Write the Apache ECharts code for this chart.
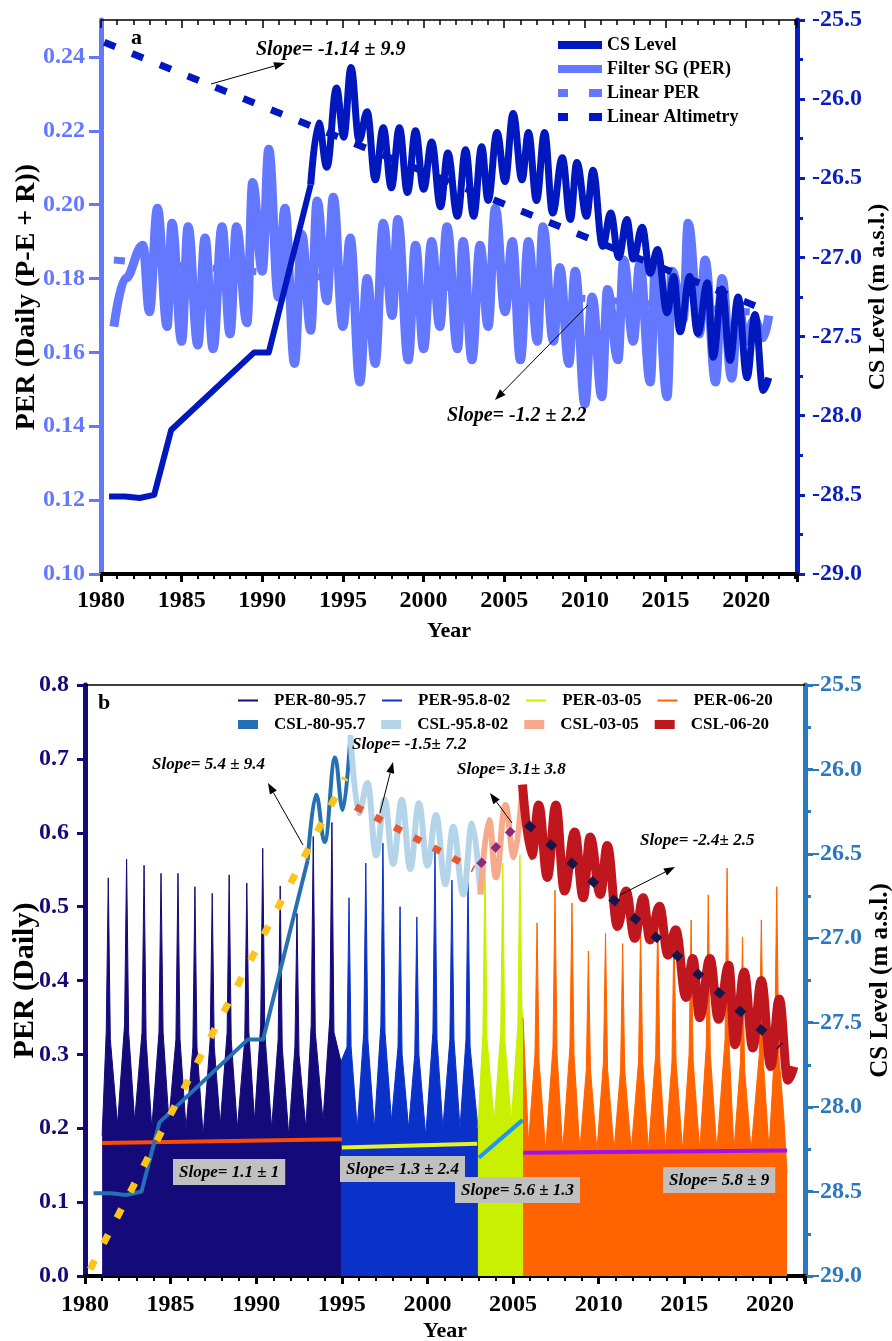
<!DOCTYPE html>
<html>
<head>
<meta charset="utf-8">
<script src="https://cdn.jsdelivr.net/npm/echarts@6/dist/echarts.min.js"></script>
<style>
    html, body { margin: 0; padding: 0; background: #fff; }
    #chart { width: 892px; height: 1341px; }
</style>
</head>
<body>
<div id="chart"></div>
<script>
    var FONT = '"Liberation Serif", "Times New Roman", serif';

    // ---- panel a : CS level (m a.s.l.) and filtered PER ----
    var csLevel = [
        [1980.5, -28.51], [1981.5, -28.51], [1982.4, -28.52], [1983.3, -28.50], [1984.35, -28.09],
        [1989.5, -27.60], [1990.4, -27.60], [1993.0, -26.54], [1993.5, -26.15], [1994.0, -26.43],
        [1994.6, -25.93], [1995.05, -26.24], [1995.5, -25.80], [1996.0, -26.26], [1996.5, -26.08],
        [1997.0, -26.51], [1997.5, -26.18], [1998.0, -26.56], [1998.5, -26.18], [1999.0, -26.59],
        [1999.5, -26.20], [2000.0, -26.57], [2000.5, -26.27], [2001.05, -26.68], [2001.5, -26.34],
        [2002.1, -26.74], [2002.6, -26.32], [2003.1, -26.74], [2003.6, -26.30], [2004.0, -26.64],
        [2004.55, -26.21], [2005.05, -26.52], [2005.55, -26.09], [2006.1, -26.51], [2006.5, -26.21],
        [2007.0, -26.64], [2007.5, -26.21], [2008.0, -26.72], [2008.6, -26.37], [2009.1, -26.76],
        [2009.5, -26.40], [2010.1, -26.74], [2010.5, -26.45], [2011.1, -26.93], [2011.6, -26.72],
        [2012.1, -27.00], [2012.6, -26.76], [2013.0, -27.01], [2013.55, -26.81], [2014.05, -27.10],
        [2014.5, -26.95], [2015.1, -27.35], [2015.5, -27.12], [2015.9, -27.47], [2016.5, -27.12],
        [2017.0, -27.48], [2017.6, -27.16], [2017.95, -27.63], [2018.5, -27.20], [2019.0, -27.65],
        [2019.5, -27.25], [2020.05, -27.76], [2020.55, -27.36], [2021.05, -27.84], [2021.4, -27.76]
    ];
    var filterSG = [
        [1980.8, 0.167], [1981.5, 0.180], [1982.6, 0.189], [1983.0, 0.171], [1983.5, 0.199],
        [1984.1, 0.167], [1984.4, 0.195], [1985.0, 0.163], [1985.4, 0.194], [1986.0, 0.162],
        [1986.45, 0.191], [1986.95, 0.161], [1987.5, 0.194], [1988.0, 0.165], [1988.4, 0.194],
        [1989.05, 0.168], [1989.4, 0.206], [1990.0, 0.182], [1990.4, 0.215], [1991.0, 0.175],
        [1991.4, 0.199], [1992.0, 0.157], [1992.45, 0.192], [1993.0, 0.166], [1993.4, 0.201],
        [1994.0, 0.174], [1994.4, 0.202], [1995.0, 0.167], [1995.45, 0.191], [1996.05, 0.152],
        [1996.5, 0.180], [1997.0, 0.157], [1997.5, 0.195], [1998.05, 0.170], [1998.4, 0.196],
        [1999.05, 0.158], [1999.5, 0.189], [2000.0, 0.161], [2000.5, 0.190], [2001.0, 0.167],
        [2001.45, 0.194], [2002.1, 0.161], [2002.45, 0.190], [2003.0, 0.158], [2003.5, 0.189],
        [2004.0, 0.167], [2004.45, 0.199], [2005.05, 0.171], [2005.5, 0.190], [2006.0, 0.158],
        [2006.5, 0.190], [2007.05, 0.163], [2007.4, 0.194], [2008.05, 0.163], [2008.45, 0.183],
        [2009.0, 0.157], [2009.4, 0.182], [2010.0, 0.146], [2010.45, 0.175], [2011.05, 0.148],
        [2011.4, 0.177], [2012.05, 0.158], [2012.4, 0.185], [2013.0, 0.163], [2013.4, 0.184],
        [2014.05, 0.152], [2014.4, 0.186], [2015.1, 0.148], [2015.4, 0.182], [2016.1, 0.169],
        [2016.4, 0.195], [2017.1, 0.165], [2017.45, 0.185], [2018.1, 0.152], [2018.5, 0.180],
        [2019.1, 0.153], [2019.5, 0.173], [2020.0, 0.163], [2020.5, 0.169], [2021.05, 0.164],
        [2021.4, 0.170]
    ];
    var linearPER = [[1980.8, 0.185], [2021.5, 0.1705]];
    var linearAlt = [[1980.2, -25.64], [2021.4, -27.34]];

    // ---- panel b : daily PER by period ----
    var per80 = [
        [1981.0, 0.19], [1981.24, 0.33], [1981.36, 0.539], [1981.48, 0.32], [1981.9, 0.205],
        [1982.31, 0.34], [1982.43, 0.564], [1982.55, 0.33], [1982.9, 0.21],
        [1983.33, 0.33], [1983.45, 0.556], [1983.57, 0.32], [1983.9, 0.20],
        [1984.32, 0.33], [1984.44, 0.545], [1984.56, 0.33], [1984.9, 0.21],
        [1985.31, 0.32], [1985.43, 0.545], [1985.55, 0.32], [1985.9, 0.20],
        [1986.3, 0.31], [1986.42, 0.527], [1986.54, 0.31], [1986.9, 0.19],
        [1987.31, 0.32], [1987.43, 0.518], [1987.55, 0.31], [1987.9, 0.205],
        [1988.3, 0.33], [1988.42, 0.543], [1988.54, 0.32], [1988.9, 0.20],
        [1989.33, 0.32], [1989.45, 0.532], [1989.57, 0.33], [1989.9, 0.21],
        [1990.26, 0.34], [1990.38, 0.579], [1990.5, 0.33], [1990.9, 0.20],
        [1991.28, 0.32], [1991.4, 0.528], [1991.52, 0.31], [1991.9, 0.19],
        [1992.26, 0.31], [1992.38, 0.491], [1992.5, 0.30], [1992.9, 0.20],
        [1993.21, 0.34], [1993.33, 0.595], [1993.45, 0.33], [1993.9, 0.21],
        [1994.3, 0.35], [1994.42, 0.614], [1994.54, 0.33], [1994.95, 0.29]
    ];
    var per95 = [
        [1994.95, 0.29], [1995.3, 0.31], [1995.42, 0.512], [1995.54, 0.31], [1995.9, 0.20],
        [1996.28, 0.33], [1996.4, 0.559], [1996.52, 0.32], [1996.9, 0.20],
        [1997.28, 0.34], [1997.4, 0.586], [1997.52, 0.33], [1997.9, 0.21],
        [1998.28, 0.31], [1998.4, 0.500], [1998.52, 0.30], [1998.9, 0.20],
        [1999.26, 0.30], [1999.38, 0.486], [1999.5, 0.30], [1999.9, 0.19],
        [2000.32, 0.33], [2000.44, 0.574], [2000.56, 0.32], [2000.9, 0.20],
        [2001.31, 0.32], [2001.43, 0.536], [2001.55, 0.32], [2001.9, 0.20],
        [2002.25, 0.32], [2002.37, 0.536], [2002.49, 0.31], [2002.95, 0.20]
    ];
    var per03 = [
        [2002.95, 0.20], [2003.24, 0.33], [2003.36, 0.563], [2003.48, 0.32], [2003.9, 0.21],
        [2004.28, 0.33], [2004.4, 0.559], [2004.52, 0.32], [2004.9, 0.21],
        [2005.28, 0.34], [2005.4, 0.570], [2005.52, 0.36], [2005.58, 0.35]
    ];
    var per06 = [
        [2005.58, 0.35], [2005.9, 0.18],
        [2006.28, 0.30], [2006.4, 0.478], [2006.52, 0.29], [2006.9, 0.17],
        [2007.33, 0.31], [2007.45, 0.522], [2007.57, 0.30], [2007.9, 0.17],
        [2008.32, 0.31], [2008.44, 0.505], [2008.56, 0.30], [2008.9, 0.17],
        [2009.28, 0.28], [2009.4, 0.440], [2009.52, 0.28], [2009.9, 0.17],
        [2010.28, 0.29], [2010.4, 0.464], [2010.52, 0.28], [2010.9, 0.17],
        [2011.28, 0.28], [2011.4, 0.450], [2011.52, 0.28], [2011.9, 0.17],
        [2012.33, 0.29], [2012.45, 0.472], [2012.57, 0.29], [2012.9, 0.17],
        [2013.33, 0.30], [2013.45, 0.486], [2013.57, 0.29], [2013.9, 0.17],
        [2014.28, 0.29], [2014.4, 0.472], [2014.52, 0.29], [2014.9, 0.17],
        [2015.28, 0.30], [2015.4, 0.482], [2015.52, 0.29], [2015.9, 0.17],
        [2016.28, 0.31], [2016.4, 0.516], [2016.52, 0.30], [2016.9, 0.17],
        [2017.38, 0.32], [2017.5, 0.552], [2017.62, 0.31], [2017.9, 0.17],
        [2018.28, 0.29], [2018.4, 0.459], [2018.52, 0.28], [2018.9, 0.17],
        [2019.38, 0.30], [2019.5, 0.482], [2019.62, 0.29], [2019.95, 0.17],
        [2020.28, 0.31], [2020.4, 0.527], [2020.52, 0.30], [2020.8, 0.22], [2021.0, 0.14]
    ];
    // fitted PER trend per period
    var trendPer80 = [[1981.0, 0.180], [1995.0, 0.185]];
    var trendPer95 = [[1995.0, 0.174], [2002.9, 0.179]];
    var trendPer03 = [[2003.0, 0.160], [2005.55, 0.211]];
    var trendPer06 = [[2005.6, 0.167], [2021.0, 0.170]];
    // fitted CSL trend per period
    var trendCsl80 = [[1980.3, -28.96], [1995.2, -26.05]];
    var trendCsl95 = [[1995.8, -26.22], [2002.7, -26.59]];
    var trendCsl03 = [[2003.0, -26.57], [2005.2, -26.33]];
    var trendCsl06 = [[2005.8, -26.32], [2020.6, -27.64]];

    var xTicks = [1980, 1985, 1990, 1995, 2000, 2005, 2010, 2015, 2020];

    // the early CS level record is piecewise linear, the altimetry part is smooth
    function seg(a, b) {
        return csLevel.filter(function (p) { return p[0] >= a && p[0] <= b; });
    }
    var csEarly = seg(1980, 1993.0),
        csLate = seg(1993.0, 2030);
    var csl80a = seg(1980, 1993.0),
        csl80b = seg(1993.0, 1995.5),
        csl95 = seg(1995.5, 2003.1),
        csl03 = seg(2003.1, 2005.55),
        csl06 = seg(2005.55, 2030);

    var chart = echarts.init(document.getElementById('chart'), null, { renderer: 'canvas' });

    function xAxisBottom(grid, max, margin, nameGap) {
        return {
            gridIndex: grid, type: 'value', min: 1980, max: max, interval: 5, position: 'bottom',
            axisLine: { show: true, onZero: false, lineStyle: { color: '#000', width: 4 } },
            axisTick: { show: true, length: 8, lineStyle: { color: '#000', width: 3 } },
            minorTick: { show: true, splitNumber: 5, length: 5, lineStyle: { color: '#000', width: 2 } },
            splitLine: { show: false },
            axisLabel: {
                margin: margin, showMaxLabel: false, fontSize: 24, fontWeight: 'bold', color: '#000', fontFamily: FONT,
                formatter: function (v) { return xTicks.indexOf(v) >= 0 ? String(v) : ''; }
            },
            name: 'Year', nameLocation: 'middle', nameGap: nameGap, nameMoveOverlap: false,
            nameTextStyle: { fontSize: 22, fontWeight: 'bold', color: '#000', fontFamily: FONT }
        };
    }
    function xAxisTop(grid, max, ticks) {
        return {
            gridIndex: grid, type: 'value', min: 1980, max: max, interval: 5, position: 'top',
            axisLine: { show: true, onZero: false, lineStyle: { color: '#000', width: 1.5 } },
            axisTick: { show: ticks, inside: true, length: 8, lineStyle: { color: '#000', width: 1.5 } },
            minorTick: { show: ticks, splitNumber: 5, length: 5, lineStyle: { color: '#000', width: 1.5 } },
            splitLine: { show: false },
            axisLabel: { show: false }
        };
    }
    function yAxis(grid, pos, min, max, interval, color, digits, minor, margin, name, nameGap, nameSize) {
        return {
            gridIndex: grid, type: 'value', position: pos, min: min, max: max, interval: interval,
            axisLine: { show: true, onZero: false, lineStyle: { color: color, width: 5 } },
            axisTick: { show: true, length: pos === 'left' && grid === 0 ? 12 : 8, lineStyle: { color: color, width: 3 } },
            minorTick: { show: minor, splitNumber: 2, length: 6, lineStyle: { color: color, width: 3 } },
            splitLine: { show: false },
            axisLabel: {
                margin: margin, showMaxLabel: digits === 2 ? false : true, fontSize: 24, fontWeight: 'bold',
                color: color, fontFamily: FONT,
                formatter: function (v) { return v.toFixed(digits); }
            },
            name: name, nameLocation: 'middle', nameRotate: 90, nameGap: nameGap, nameMoveOverlap: false,
            nameTextStyle: { fontSize: nameSize, fontWeight: 'bold', color: '#000', fontFamily: FONT }
        };
    }

    function arrow(x1, y1, x2, y2) {
        var ang = Math.atan2(y2 - y1, x2 - x1), L = 11, W = 4;
        var bx = x2 - L * Math.cos(ang), by = y2 - L * Math.sin(ang);
        var px = -Math.sin(ang) * W, py = Math.cos(ang) * W;
        return [
            { type: 'line', shape: { x1: x1, y1: y1, x2: bx, y2: by }, style: { stroke: '#000', lineWidth: 1 }, z: 100 },
            { type: 'polygon', shape: { points: [[x2, y2], [bx + px, by + py], [bx - px, by - py]] }, style: { fill: '#000' }, z: 100 }
        ];
    }
    function label(x, y, text, size, italic, box) {
        var st = {
            text: text, fill: '#000',
            font: (italic ? 'italic ' : '') + 'bold ' + size + 'px ' + FONT
        };
        if (box) { st.backgroundColor = '#c0c0c0'; st.padding = [5, 6, 4, 6]; }
        return { type: 'text', left: x, top: y, style: st, z: 100 };
    }

    var graphics = [
        label(131, 27, 'a', 22, false),
        label(256, 40, 'Slope= -1.14 \u00b1 9.9', 20, true),
        label(447, 406, 'Slope= -1.2 \u00b1 2.2', 20, true),
        label(98, 692, 'b', 22, false),
        label(152, 756, 'Slope= 5.4 \u00b1 9.4', 17, true),
        label(352, 736, 'Slope= -1.5\u00b1 7.2', 17, true),
        label(457, 761, 'Slope= 3.1\u00b1 3.8', 17, true),
        label(640, 832, 'Slope= -2.4\u00b1 2.5', 17, true),
        label(173, 1159, 'Slope= 1.1 \u00b1 1', 17, true, true),
        label(340, 1156, 'Slope= 1.3 \u00b1 2.4', 17, true, true),
        label(455, 1177, 'Slope= 5.6 \u00b1 1.3', 17, true, true),
        label(663, 1167, 'Slope= 5.8 \u00b1 9', 17, true, true)
    ]
        .concat(arrow(211, 84, 285, 63))
        .concat(arrow(588, 305, 495, 400))
        .concat(arrow(303, 845, 268, 783))
        .concat(arrow(380, 813, 393, 762))
        .concat(arrow(512, 823, 490, 793))
        .concat(arrow(620, 895, 675, 867));

    function perArea(name, data, color) {
        return {
            name: name, type: 'line', xAxisIndex: 2, yAxisIndex: 2, data: data, color: color,
            symbol: 'none', lineStyle: { color: color, width: 1 },
            areaStyle: { color: color, opacity: 1 }, z: 2
        };
    }
    function flatLine(name, x, y, data, color, width, dash, z, smooth) {
        return {
            name: name, type: 'line', xAxisIndex: x, yAxisIndex: y, data: data, color: color,
            symbol: 'none', smooth: smooth || false, smoothMonotone: 'x',
            lineStyle: { color: color, width: width, type: dash || 'solid', cap: 'butt', join: 'round' }, z: z
        };
    }

    var dashIcon = 'path://M0,0h10v8h-10z M31,0h13v8h-13z';

    var option = {
        animation: false,
        backgroundColor: '#fff',
        textStyle: { fontFamily: FONT },
        grid: [
            { left: 101, right: 95, top: 20, height: 554, outerBoundsMode: 'none', containLabel: false },
            { left: 85, right: 87, top: 685, height: 591, outerBoundsMode: 'none', containLabel: false }
        ],
        xAxis: [
            xAxisBottom(0, 2023.15, 15, 46),
            xAxisTop(0, 2023.15, true),
            xAxisBottom(1, 2022.05, 17, 44),
            xAxisTop(1, 2022.05, false)
        ],
        yAxis: [
            yAxis(0, 'left', 0.10, 0.25, 0.02, '#6478ff', 2, false, 16, 'PER (Daily (P-E + R))', 60, 28),
            yAxis(0, 'right', -29, -25.5, 0.5, '#0a1ebe', 1, true, 15, 'CS Level (m a.s.l.)', 69, 24),
            yAxis(1, 'left', 0, 0.8, 0.1, '#140a7a', 1, false, 16, 'PER (Daily)', 45, 30),
            yAxis(1, 'right', -29, -25.5, 0.5, '#2a78bd', 1, true, 7, 'CS Level (m a.s.l.)', 63, 25)
        ],
        legend: [
            {
                orient: 'vertical', left: 553, top: 30, itemWidth: 44, itemHeight: 8, itemGap: 4,
                data: [
                    { name: 'CS Level', icon: 'rect' },
                    { name: 'Filter SG (PER)', icon: 'rect' },
                    { name: 'Linear PER', icon: dashIcon },
                    { name: 'Linear Altimetry', icon: dashIcon }
                ],
                textStyle: { fontFamily: FONT, fontWeight: 'bold', fontSize: 18, color: '#000', lineHeight: 20 }
            },
            {
                orient: 'horizontal', left: 233, top: 687, itemWidth: 20, itemHeight: 2, itemGap: 16, icon: 'rect',
                data: ['PER-80-95.7', 'PER-95.8-02', 'PER-03-05', 'PER-06-20'],
                textStyle: { fontFamily: FONT, fontWeight: 'bold', fontSize: 17, color: '#000', padding: [0, 0, 0, 11] }
            },
            {
                orient: 'horizontal', left: 233, top: 711, itemWidth: 20, itemHeight: 9, itemGap: 16, icon: 'rect',
                data: ['CSL-80-95.7', 'CSL-95.8-02', 'CSL-03-05', 'CSL-06-20'],
                textStyle: { fontFamily: FONT, fontWeight: 'bold', fontSize: 17, color: '#000', padding: [0, 0, 0, 11] }
            }
        ],
        graphic: graphics,
        series: [
            // panel a
            flatLine('Linear PER', 0, 0, linearPER, '#6478ff', 7, [11, 22], 3),
            flatLine('Filter SG (PER)', 0, 0, filterSG, '#6478ff', 9, 'solid', 4, 0.4),
            flatLine('CS Level', 0, 1, csEarly, '#0018be', 6, 'solid', 5),
            flatLine('CS Level', 0, 1, csLate, '#0018be', 7, 'solid', 5, 0.4),
            flatLine('Linear Altimetry', 0, 1, linearAlt, '#0018be', 7, [12, 18], 6),
            // panel b
            perArea('PER-80-95.7', per80, '#140a7a'),
            perArea('PER-95.8-02', per95, '#0a32c8'),
            perArea('PER-03-05', per03, '#c8f000'),
            perArea('PER-06-20', per06, '#ff6400'),
            flatLine('trend-per-80', 2, 2, trendPer80, '#ff4a00', 4, 'solid', 4),
            flatLine('trend-per-95', 2, 2, trendPer95, '#e6f51e', 4, 'solid', 4),
            flatLine('trend-per-03', 2, 2, trendPer03, '#1e96f5', 4, 'solid', 4),
            flatLine('trend-per-06', 2, 2, trendPer06, '#a010f5', 4, 'solid', 4),
            flatLine('CSL-80-95.7', 2, 3, csl80a, '#2570b3', 4, 'solid', 5),
            flatLine('CSL-80-95.7', 2, 3, csl80b, '#2570b3', 4, 'solid', 5, 0.4),
            flatLine('CSL-95.8-02', 2, 3, csl95, '#b4d4ea', 6, 'solid', 5, 0.4),
            flatLine('CSL-03-05', 2, 3, csl03, '#f7a98c', 6, 'solid', 5, 0.4),
            flatLine('CSL-06-20', 2, 3, csl06, '#c0161e', 9, 'solid', 5, 0.4),
            flatLine('trend-csl-80', 2, 3, trendCsl80, '#fcc419', 7, [10, 19], 6),
            flatLine('trend-csl-95', 2, 3, trendCsl95, '#e8582e', 7, [8, 14], 6),
            flatLine('trend-csl-03', 2, 3, trendCsl03, '#8a2a82', 7, [8, 13], 6),
            flatLine('trend-csl-06', 2, 3, trendCsl06, '#1a1548', 8, [9, 19], 6)
        ]
    };
    chart.setOption(option);
</script>
</body>
</html>
